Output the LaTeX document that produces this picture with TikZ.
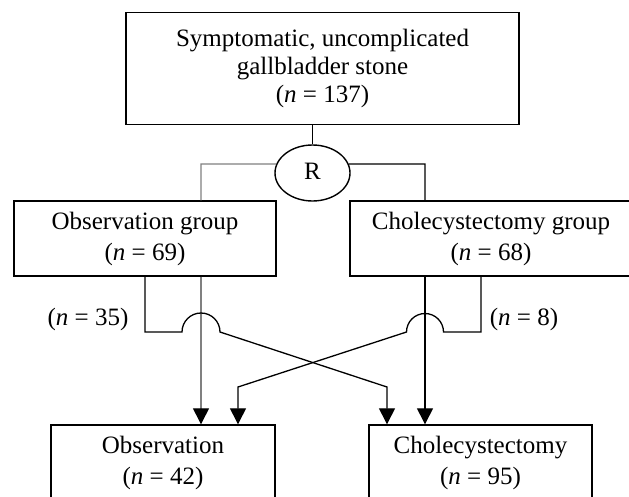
\documentclass[tikz,border=0pt]{standalone}
\usepackage{fontspec}
\setmainfont{Liberation Serif}
\usetikzlibrary{arrows.meta,shapes.geometric}
\begin{document}
\begin{tikzpicture}[x=1pt,y=-1pt,
  box/.style={draw,line width=1.4pt,inner sep=0pt,align=center,font=\fontsize{25}{31}\selectfont,fill=white},
  conn/.style={line width=1.3pt,draw=black},
  greyconn/.style={line width=1.3pt,draw=black!50},
  arr/.style={-{Triangle[length=16pt,width=16pt,color=black,fill=black]}},
  lab/.style={font=\fontsize{25}{31}\selectfont,inner sep=0pt}]
\useasboundingbox (0,0) rectangle (629,496);
\clip (0,0) rectangle (629,496);

\node[box,minimum width=393pt,minimum height=112pt,font=\fontsize{25}{28}\selectfont] (top) at (322.5,68.5)
  {Symptomatic, uncomplicated\\gallbladder stone\\(\textit{n} = 137)};
\node[draw,ellipse,line width=1.4pt,inner sep=0pt,minimum width=75pt,minimum height=56pt,font=\fontsize{25}{31}\selectfont,fill=white] (R) at (312.5,173) {\raisebox{3pt}{R}};
\node[box,minimum width=262pt,minimum height=75pt] (og) at (145,238.5) {Observation group\\(\textit{n} = 69)};
\node[box,minimum width=282pt,minimum height=75pt] (cg) at (491,238.5) {Cholecystectomy group\\(\textit{n} = 68)};
\node[box,minimum width=224pt,minimum height=76pt] (ob) at (163,463) {Observation\\(\textit{n} = 42)};
\node[box,minimum width=223pt,minimum height=76pt] (cb) at (480.5,463) {Cholecystectomy\\(\textit{n} = 95)};
\node[lab] (l35) at (88,319) {(\textit{n} = 35)};
\node[lab] (l8) at (524,319) {(\textit{n} = 8)};

\coordinate (lcorner) at (201,164);
\coordinate (rcorner) at (425,164);
\coordinate (lh) at (145,332);
\coordinate (rh) at (481,332);
\coordinate (lx) at (387,387);
\coordinate (rx) at (238,387);

\draw[conn] (top.south -| R.north) -- (R.north);
\draw[greyconn] (R.166) -- (lcorner) -- (lcorner |- og.north);
\draw[conn] (R.14) -- (rcorner) -- (rcorner |- cg.north);
\draw[greyconn,arr] (lcorner |- og.south) -- (lcorner |- ob.north);
\draw[conn,arr] (rcorner |- cg.south) -- (rcorner |- cb.north);
\draw[conn,arr] (lh |- og.south) -- (lh) -- (182,332) arc[start angle=180,end angle=0,radius=19pt] -- (lx) -- (lx |- cb.north);
\draw[conn,arr] (rh |- cg.south) -- (rh) -- (443.5,332) arc[start angle=0,end angle=180,radius=18.5pt] -- (rx) -- (rx |- ob.north);
\end{tikzpicture}
\end{document}
